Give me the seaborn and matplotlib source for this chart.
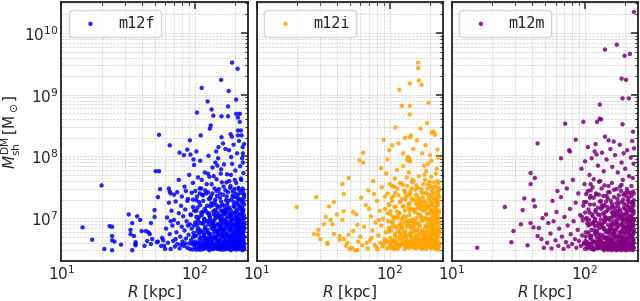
import pandas as pd
import matplotlib
matplotlib.use("Agg")
import matplotlib.pyplot as plt
import seaborn as sns

halos = ["m12f", "m12i", "m12m"]
colors = ["blue", "orange", "purple"]

# (R [kpc], log10 M_sh^DM [Msun])
m12f = [
    (191, 9.52), (210, 9.42), (158, 9.24), (113, 9.11), (180, 9.06), (205, 8.92), (125, 8.89), (178, 8.81),
    (134, 8.76), (104, 8.71), (205, 8.69), (218, 8.69), (138, 8.66), (159, 8.65), (178, 8.65), (211, 8.63),
    (218, 8.56), (132, 8.50), (130, 8.45), (211, 8.42), (222, 8.42), (54, 8.35), (111, 8.34), (211, 8.34),
    (225, 8.34), (159, 8.31), (190, 8.32), (92, 8.26), (65, 8.18), (77, 8.06), (83, 8.02), (98, 7.95),
    (88, 8.11), (103, 8.08), (20, 7.53), (51, 7.76), (54, 7.76), (55, 7.47), (64, 7.48), (53, 7.34),
    (65, 7.43), (66, 7.40), (50, 7.13), (32, 7.06), (37, 7.03), (39, 6.97), (50, 7.02), (14.4, 6.85),
    (23, 6.87), (24, 6.86), (34, 6.92), (47, 6.92), (33, 6.81), (40, 6.79), (43, 6.79), (45, 6.77),
    (46, 6.74), (33, 6.74), (17, 6.65), (24, 6.71), (24, 6.64), (35, 6.71), (36, 6.61), (36, 6.58),
    (36, 6.56), (25, 6.62), (28, 6.57), (21, 6.50), (24, 6.48), (34, 6.48), (42, 6.55), (44, 6.63),
    (47, 6.58), (48, 6.66), (52, 6.61), (53, 6.62), (56, 6.55), (58, 6.64), (60, 6.50),
    (145, 8.08), (151, 8.15), (163, 8.21), (170, 8.12), (196, 8.19), (215, 8.25), (230, 8.05), (235, 8.20), (186, 8.36),
    (57, 6.68), (59, 6.55), (61, 6.83), (62, 7.01), (63, 6.60), (65, 6.74), (66, 6.50), (67, 7.12),
    (68, 6.88), (69, 6.63), (70, 6.97), (71, 6.54), (72, 7.27), (73, 6.77), (74, 6.58), (75, 6.92),
    (76, 7.08), (77, 6.51), (78, 6.70), (79, 7.20), (80, 6.86), (81, 6.62), (82, 7.03), (83, 6.55),
    (84, 6.80), (85, 7.14), (86, 6.67), (87, 6.95), (88, 6.52), (89, 7.31), (90, 6.73), (91, 6.59),
    (92, 6.90), (93, 7.06), (94, 6.64), (95, 6.83), (96, 6.49), (97, 7.18), (98, 6.76), (99, 6.57),
    (64, 7.25), (70, 7.38), (74, 7.42), (66, 6.95), (85, 6.59), (92, 6.50), (97, 6.69), (89, 6.88),
    (79, 6.57), (72, 6.66),
    (76, 7.62), (80, 7.35), (84, 7.51), (88, 7.28), (91, 7.70), (95, 7.41), (97, 7.57), (99, 7.86),
    (103, 7.29), (106, 7.66), (110, 7.93), (114, 7.38), (119, 7.74), (123, 7.55), (127, 8.01), (132, 7.35),
    (136, 7.82), (141, 7.48), (146, 7.63), (150, 7.97), (155, 7.40), (160, 7.58), (166, 7.87), (170, 7.45),
    (175, 7.71), (181, 8.10), (186, 7.52), (191, 7.88), (197, 7.34), (202, 7.77), (208, 8.05), (213, 7.49),
    (219, 7.84), (224, 7.62), (229, 8.15), (234, 7.39), (232, 7.73), (227, 7.97), (216, 7.31), (200, 7.62),
    (188, 7.99), (173, 7.58), (157, 7.72), (143, 7.90), (129, 7.67), (112, 7.48), (93, 8.03), (86, 7.44),
    (100, 6.52), (102, 6.71), (101, 6.93), (103, 7.12), (105, 6.60), (106, 6.84), (104, 7.35), (107, 6.49),
    (108, 7.02), (109, 6.66), (110, 7.21), (102, 6.58), (106, 6.97), (109, 7.48),
    (111, 6.55), (112, 6.78), (113, 7.05), (114, 6.63), (115, 6.91), (116, 7.28), (117, 6.50), (118, 6.72),
    (119, 7.15), (120, 6.86), (121, 6.57), (122, 7.40), (113, 7.62), (118, 6.99), (121, 6.68),
    (123, 6.53), (124, 6.81), (125, 7.08), (126, 6.64), (127, 6.95), (128, 7.31), (129, 6.48), (130, 6.74),
    (131, 7.19), (132, 6.59), (133, 6.88), (134, 7.55), (135, 6.69), (126, 7.72), (130, 7.01), (133, 6.52),
    (136, 6.61), (137, 6.83), (138, 7.11), (139, 6.50), (140, 6.96), (141, 7.26), (142, 6.70), (143, 6.55),
    (144, 7.04), (145, 6.79), (146, 7.44), (147, 6.62), (148, 6.90), (149, 7.17), (150, 6.51), (139, 7.68),
    (144, 6.66), (148, 7.85),
    (151, 6.73), (152, 6.58), (153, 7.00), (154, 6.85), (155, 7.33), (156, 6.49), (157, 6.68), (158, 7.12),
    (159, 6.93), (160, 6.56), (161, 7.22), (162, 6.77), (163, 6.61), (164, 7.06), (165, 7.51), (166, 6.70),
    (154, 6.54), (158, 7.79), (162, 6.98),
    (167, 6.52), (168, 6.81), (169, 7.09), (170, 6.63), (171, 6.95), (172, 7.29), (173, 6.50), (174, 6.74),
    (175, 7.16), (176, 6.59), (177, 6.88), (178, 7.42), (179, 6.67), (180, 7.02), (181, 6.54), (182, 7.60),
    (183, 6.79), (171, 6.57), (176, 7.23), (180, 6.71),
    (184, 6.62), (185, 6.91), (186, 7.13), (187, 6.48), (188, 6.73), (189, 7.05), (190, 6.57), (191, 6.84),
    (192, 7.36), (193, 6.66), (194, 6.99), (195, 6.53), (196, 7.20), (197, 6.76), (198, 6.60), (199, 7.47),
    (200, 6.87), (187, 7.70), (193, 6.51), (198, 7.08),
    (201, 6.55), (202, 6.70), (203, 7.03), (204, 6.81), (205, 6.49), (206, 7.25), (207, 6.64), (208, 6.93),
    (209, 7.14), (210, 6.58), (211, 6.77), (212, 7.38), (213, 6.52), (214, 6.86), (215, 7.01), (216, 6.68),
    (217, 6.50), (218, 7.19), (205, 7.57), (210, 6.97), (215, 6.61),
    (219, 6.59), (220, 6.82), (221, 7.07), (222, 6.71), (223, 6.51), (224, 6.94), (225, 7.30), (226, 6.63),
    (227, 6.87), (228, 7.12), (229, 6.55), (230, 6.76), (231, 7.45), (232, 6.66), (233, 6.99), (234, 6.53),
    (235, 7.22), (222, 7.64), (228, 6.48), (233, 6.79), (236, 6.92), (230, 7.90),
    (101, 6.62), (104, 6.90), (107, 6.56), (110, 6.80), (112, 6.49), (115, 7.10), (117, 6.69), (120, 6.53),
    (122, 6.95), (125, 6.58), (127, 6.76), (129, 7.04), (131, 6.62), (134, 6.83), (136, 6.50), (138, 6.92),
    (141, 6.58), (143, 6.87), (145, 6.53), (147, 7.09), (149, 6.74), (152, 6.90), (153, 6.52), (155, 6.64),
    (157, 6.96), (159, 6.53), (161, 6.81), (163, 6.90), (165, 6.57), (167, 6.97), (169, 6.60), (171, 6.76),
    (173, 6.89), (175, 6.55), (177, 6.63), (179, 6.94), (181, 6.82), (183, 6.50), (185, 6.69), (187, 6.99),
    (189, 6.61), (191, 6.52), (193, 6.89), (195, 6.74), (197, 6.50), (199, 6.63), (201, 6.91), (203, 6.58),
    (205, 6.73), (207, 6.52), (209, 6.80), (211, 6.60), (213, 6.95), (215, 6.50), (217, 6.84), (219, 6.72),
    (221, 6.56), (223, 6.66), (225, 6.50), (227, 6.98), (229, 6.70), (231, 6.57), (233, 6.62), (235, 6.86),
    (236, 6.58), (234, 7.05), (232, 6.49), (226, 6.77), (218, 6.63), (212, 6.54), (206, 6.87), (196, 6.61),
    (188, 6.55), (178, 6.51), (168, 6.68), (160, 6.72), (150, 6.64), (140, 6.67), (132, 6.97), (124, 6.66),
    (116, 6.59), (108, 6.75),
    (97, 6.60), (142, 6.53), (188, 6.92), (231, 6.68), (119, 6.82), (165, 6.49), (210, 7.08), (103, 7.02),
    (151, 6.61), (197, 6.57), (224, 6.75), (128, 6.55), (174, 7.01), (218, 6.53), (109, 6.60), (157, 6.84),
    (203, 6.66), (235, 6.51), (135, 6.92), (181, 6.60), (226, 7.17), (113, 6.52), (162, 6.74), (207, 6.55),
    (233, 6.90), (146, 6.70), (192, 6.97), (121, 7.12), (169, 6.54), (214, 6.82), (99, 6.88), (138, 6.58),
    (185, 6.51), (229, 6.60), (125, 6.77), (177, 6.72), (221, 6.90), (106, 6.52), (153, 6.78), (199, 6.79),
    (236, 6.70), (131, 6.67), (183, 7.06), (215, 6.72), (116, 6.93), (164, 6.83), (211, 6.88), (148, 6.50),
    (194, 6.68), (227, 6.54), (123, 6.60), (172, 6.50), (219, 6.97), (102, 6.49), (144, 6.80), (190, 6.71),
    (234, 6.83), (137, 7.21), (179, 6.51), (223, 6.60), (111, 6.69), (159, 7.03), (205, 6.62), (232, 7.14),
    (127, 6.90), (168, 6.60), (213, 6.51), (96, 6.58), (140, 6.86), (186, 6.64), (230, 6.93), (118, 6.52),
    (166, 7.13), (209, 6.69), (150, 6.80), (196, 6.88), (225, 6.62), (133, 6.54), (176, 6.90), (220, 6.52),
    (105, 6.79), (155, 6.59), (201, 6.51), (235, 7.00), (129, 6.71), (171, 6.93), (217, 6.59), (114, 6.56),
    (160, 6.50), (206, 6.96), (143, 7.00), (189, 6.80), (228, 6.75), (120, 6.64), (163, 6.57), (212, 6.79),
    (100, 6.72), (147, 6.57), (193, 6.60), (233, 6.52), (134, 6.63), (178, 6.60), (222, 6.86), (110, 6.92),
    (156, 6.88), (202, 6.86), (126, 6.50), (170, 6.84), (216, 6.92), (139, 6.76), (184, 6.86), (230, 6.59),
    (117, 6.76), (167, 6.64), (208, 6.59), (152, 7.05), (198, 6.55),
    (94, 7.05), (131, 7.32), (177, 7.10), (222, 7.41), (108, 7.26), (152, 7.47), (199, 7.18), (234, 7.33),
    (118, 6.98), (164, 7.38), (211, 7.22), (101, 7.44), (142, 7.13), (188, 7.30), (228, 7.02), (124, 7.20),
    (170, 7.07), (215, 7.46), (112, 7.09), (158, 7.27), (204, 7.11), (136, 7.40), (182, 7.17), (226, 7.25),
    (97, 7.30), (146, 7.21), (193, 7.43), (231, 7.10), (128, 7.08), (174, 7.35), (218, 7.15), (105, 7.17),
    (150, 7.03), (196, 7.26), (235, 7.37), (120, 7.45), (166, 7.20), (208, 7.33), (139, 7.06), (185, 7.49),
    (224, 7.17), (115, 7.37), (161, 7.11), (202, 7.40), (133, 7.24), (179, 7.28), (220, 7.06), (99, 7.12),
    (147, 7.36), (191, 7.09), (232, 7.27), (126, 7.42), (171, 7.13), (213, 7.29), (109, 7.40), (155, 7.19),
    (206, 7.02), (143, 7.30), (187, 7.04), (229, 7.48),
]

m12i = [
    (163, 9.52), (163, 9.43), (165, 9.23), (173, 9.16), (141, 9.18), (118, 9.08), (195, 8.87), (123, 8.82),
    (141, 8.82), (141, 8.68), (170, 8.45), (206, 8.39), (144, 8.34), (141, 8.31), (90, 8.27), (63, 8.06),
    (59, 7.94), (63, 7.90), (49, 7.65), (44, 7.55), (28, 7.34), (45, 7.39), (38, 7.26), (20, 7.18),
    (35, 7.19), (45, 7.11), (40, 7.06), (53, 7.10), (56, 7.06), (33, 7.02), (36, 6.97), (44, 6.97),
    (37, 6.90), (32, 6.90), (57, 6.89), (29, 6.81), (27, 6.74), (29, 6.73), (30, 6.66), (34, 6.60),
    (34, 6.58), (38, 6.74), (42, 6.71), (42, 6.65), (45, 6.66), (48, 6.60), (50, 6.50), (52, 6.52),
    (55, 6.48), (57, 6.48), (49, 6.73), (53, 6.79), (47, 6.55), (58, 6.62), (60, 6.70), (62, 6.56),
    (64, 6.86), (66, 7.21), (68, 6.51), (69, 7.45), (71, 6.64), (72, 7.03), (74, 6.80), (75, 7.60),
    (77, 6.57), (78, 6.93), (80, 7.28), (81, 6.49), (82, 6.72), (84, 7.12), (85, 6.60), (86, 6.88),
    (87, 7.50), (88, 6.54), (89, 6.99), (91, 6.66), (92, 7.35), (93, 6.77), (94, 7.72), (95, 6.51),
    (96, 7.08), (97, 6.62), (98, 6.84), (99, 7.21), (67, 6.60), (73, 6.68), (79, 6.53), (83, 6.97),
    (90, 6.58), (61, 7.33), (70, 7.15), (76, 7.39), (86, 7.81), (96, 7.95), (99, 8.10), (104, 8.18),
    (110, 8.47), (116, 8.21), (126, 8.05), (130, 8.30), (150, 8.12), (160, 8.26), (175, 8.05), (185, 8.18),
    (200, 8.02), (218, 8.35), (228, 8.11), (233, 7.98), (190, 8.54), (213, 8.40),
    (135, 7.95), (138, 7.93), (140, 7.97), (137, 7.99), (142, 7.92), (180, 7.85), (193, 7.88), (205, 7.93),
    (225, 7.80),
    (100, 6.55), (102, 6.80), (101, 7.06), (103, 7.33), (105, 6.63), (106, 6.94), (104, 7.52), (107, 6.50),
    (108, 7.18), (109, 6.71), (110, 7.41), (102, 6.60), (106, 7.02), (109, 7.64),
    (111, 6.52), (112, 6.85), (113, 7.11), (114, 6.66), (115, 7.00), (116, 7.37), (117, 6.53), (118, 6.77),
    (119, 7.26), (120, 6.91), (121, 6.59), (122, 7.56), (113, 7.78), (118, 7.08), (121, 6.73),
    (123, 6.57), (124, 6.86), (125, 7.19), (126, 6.68), (127, 7.03), (128, 7.45), (129, 6.50), (130, 6.79),
    (131, 7.30), (132, 6.62), (133, 6.95), (134, 7.66), (135, 6.73), (126, 7.84), (130, 7.12), (133, 6.55),
    (136, 6.64), (137, 6.90), (138, 7.23), (139, 6.52), (140, 7.05), (141, 7.39), (142, 6.75), (143, 6.58),
    (144, 7.15), (145, 6.83), (146, 7.58), (147, 6.65), (148, 6.98), (149, 7.29), (150, 6.53), (139, 7.74),
    (144, 6.70), (148, 7.62),
    (151, 6.78), (152, 6.61), (153, 7.10), (154, 6.90), (155, 7.46), (156, 6.51), (157, 6.72), (158, 7.24),
    (159, 7.00), (160, 6.58), (161, 7.35), (162, 6.82), (163, 6.64), (164, 7.17), (165, 7.68), (166, 6.74),
    (154, 6.56), (158, 7.53), (162, 7.07),
    (167, 6.55), (168, 6.87), (169, 7.20), (170, 6.67), (171, 7.03), (172, 7.42), (173, 6.52), (174, 6.79),
    (175, 7.27), (176, 6.62), (177, 6.96), (178, 7.55), (179, 6.71), (180, 7.12), (181, 6.57), (182, 7.70),
    (183, 6.84), (171, 6.60), (176, 7.33), (180, 6.76),
    (184, 6.66), (185, 7.00), (186, 7.25), (187, 6.50), (188, 6.78), (189, 7.16), (190, 6.60), (191, 6.91),
    (192, 7.48), (193, 6.70), (194, 7.08), (195, 6.56), (196, 7.32), (197, 6.81), (198, 6.63), (199, 7.59),
    (200, 6.95), (187, 7.76), (193, 6.54), (198, 7.19),
    (201, 6.58), (202, 6.75), (203, 7.13), (204, 6.88), (205, 6.51), (206, 7.37), (207, 6.68), (208, 7.01),
    (209, 7.26), (210, 6.61), (211, 6.83), (212, 7.50), (213, 6.55), (214, 6.93), (215, 7.11), (216, 6.72),
    (217, 6.52), (218, 7.30), (205, 7.67), (210, 7.06), (215, 6.65),
    (219, 6.62), (220, 6.89), (221, 7.18), (222, 6.76), (223, 6.54), (224, 7.04), (225, 7.43), (226, 6.67),
    (227, 6.95), (228, 7.24), (229, 6.58), (230, 6.82), (231, 7.57), (232, 6.70), (233, 7.09), (234, 6.56),
    (235, 7.34), (222, 7.72), (228, 6.51), (233, 6.86),
    (101, 6.68), (105, 6.52), (108, 6.88), (112, 6.60), (116, 6.79), (119, 6.55), (123, 6.97), (127, 6.62),
    (131, 6.53), (135, 6.86), (140, 6.61), (144, 6.95), (149, 6.57), (153, 6.68), (157, 6.53), (161, 6.92),
    (165, 6.60), (169, 6.75), (173, 6.96), (177, 6.54), (181, 6.70), (185, 6.57), (189, 6.85), (193, 6.98),
    (197, 6.53), (201, 6.69), (205, 6.90), (209, 6.55), (213, 6.74), (217, 6.97), (221, 6.53), (225, 6.70),
    (229, 6.92), (233, 6.60), (235, 6.79), (231, 6.49), (227, 6.61), (223, 6.82), (219, 6.50), (214, 6.59),
    (207, 6.80), (199, 6.67), (191, 6.56), (183, 6.63), (175, 6.50), (166, 6.89), (159, 6.69), (151, 6.93),
    (143, 6.72), (137, 6.54), (129, 6.92), (121, 6.84), (114, 6.50), (107, 6.62), (103, 6.94),
    (95, 6.63), (140, 6.56), (186, 6.98), (230, 6.74), (117, 6.88), (163, 6.52), (208, 7.21), (101, 7.11),
    (149, 6.65), (195, 6.60), (222, 6.81), (126, 6.58), (172, 7.14), (216, 6.55), (107, 6.64), (155, 6.93),
    (201, 6.70), (234, 6.54), (133, 7.02), (179, 6.63), (224, 7.30), (111, 6.55), (160, 6.80), (205, 6.58),
    (232, 6.99), (144, 6.76), (190, 7.07), (119, 7.26), (167, 6.57), (212, 6.90), (97, 6.95), (136, 6.61),
    (183, 6.53), (227, 6.64), (123, 6.84), (175, 6.79), (219, 7.01), (104, 6.55), (151, 6.84), (197, 6.86),
    (235, 6.76), (129, 6.72), (181, 7.19), (213, 6.79), (114, 7.04), (162, 6.91), (209, 6.97), (146, 6.53),
    (192, 6.73), (225, 6.58), (121, 6.64), (170, 6.54), (217, 7.09), (100, 6.52), (142, 6.87), (188, 6.77),
    (233, 6.92), (135, 7.36), (177, 6.55), (221, 6.64), (109, 6.75), (157, 7.15), (203, 6.67), (231, 7.27),
    (125, 7.00), (166, 6.64), (211, 6.54), (92, 6.62), (138, 6.95), (184, 6.69), (228, 7.04), (116, 6.56),
    (164, 7.28), (207, 6.74), (148, 6.88), (194, 6.99), (223, 6.67), (131, 6.58), (174, 7.01), (218, 6.56),
    (103, 6.86), (153, 6.63), (199, 6.54), (234, 7.12), (127, 6.77), (169, 7.05), (215, 6.63), (112, 6.60),
    (158, 6.53), (204, 7.08), (141, 7.12), (187, 6.88), (226, 6.81), (118, 6.70), (161, 6.61), (210, 6.87),
    (98, 6.78), (145, 6.61), (191, 6.65), (232, 6.55), (132, 6.69), (176, 6.64), (220, 6.96), (108, 7.00),
    (154, 6.97), (200, 6.94),
    (92, 7.15), (130, 7.42), (176, 7.20), (221, 7.51), (107, 7.36), (151, 7.60), (198, 7.28), (233, 7.45),
    (117, 7.08), (163, 7.49), (210, 7.33), (100, 7.55), (141, 7.24), (187, 7.41), (227, 7.12), (123, 7.31),
    (169, 7.17), (214, 7.58), (111, 7.19), (157, 7.38), (203, 7.22), (135, 7.52), (181, 7.28), (225, 7.36),
    (96, 7.40), (145, 7.32), (192, 7.55), (230, 7.21), (127, 7.19), (173, 7.47), (217, 7.26), (104, 7.28),
    (149, 7.14), (195, 7.38), (234, 7.49), (119, 7.57), (165, 7.31), (207, 7.45), (138, 7.17), (184, 7.62),
    (223, 7.29), (114, 7.48), (160, 7.22), (201, 7.52), (132, 7.35), (178, 7.40), (219, 7.17), (98, 7.23),
    (146, 7.48), (190, 7.20), (231, 7.39), (125, 7.54), (170, 7.24), (212, 7.41), (108, 7.51), (154, 7.30),
    (205, 7.13), (142, 7.42), (186, 7.15), (228, 7.60),
]

m12m = [
    (233, 10.34), (173, 9.81), (141, 9.73), (217, 9.66), (198, 9.63), (188, 9.26), (203, 9.24), (191, 8.94),
    (213, 8.94), (129, 8.84), (129, 8.61), (132, 8.60), (123, 8.56), (97, 8.56), (71, 8.53), (191, 8.52),
    (229, 8.40), (85, 8.27), (141, 8.32), (150, 8.26), (164, 8.24), (44, 8.21), (76, 8.10), (118, 8.08),
    (122, 8.03), (66, 7.97), (77, 8.08), (39, 7.73), (42, 7.65), (39, 7.55), (25, 7.18), (35, 7.32),
    (34, 7.13), (41, 7.29), (42, 7.19), (29, 6.79), (28, 6.61), (37, 6.56), (15.5, 6.52), (33, 6.90),
    (39, 6.92), (41, 6.85), (45, 6.84), (44, 6.71), (47, 6.66), (52, 6.60), (49, 6.52), (55, 6.75),
    (56, 6.51), (58, 6.95), (60, 6.64), (61, 7.10), (63, 6.55), (64, 6.83), (66, 7.34), (67, 6.70),
    (69, 6.50), (70, 7.02), (72, 6.61), (73, 7.48), (74, 6.88), (75, 6.54), (77, 7.15), (78, 6.74),
    (80, 6.58), (81, 7.62), (82, 6.95), (84, 6.66), (85, 7.25), (86, 6.52), (88, 6.81), (89, 7.40),
    (90, 6.63), (92, 7.05), (93, 6.55), (94, 7.80), (95, 6.72), (96, 6.96), (97, 7.20), (98, 6.60),
    (99, 7.55), (51, 7.06), (57, 7.28), (62, 7.44), (68, 7.58), (53, 6.92), (48, 7.00),
    (100, 7.92), (105, 8.15), (108, 7.70), (112, 7.97), (116, 7.63), (120, 8.20), (125, 7.85), (134, 8.06),
    (138, 7.76), (145, 7.95), (155, 8.12), (160, 7.83), (168, 8.02), (176, 7.74), (182, 8.19), (188, 7.90),
    (195, 8.05), (200, 7.80), (207, 8.10), (214, 7.68), (220, 7.98), (226, 8.25), (231, 7.88), (233, 8.13),
    (110, 7.45), (130, 7.60), (150, 7.52), (172, 7.47), (192, 7.62), (210, 7.42), (228, 7.65),
    (100, 6.50), (101, 6.77), (103, 7.00), (102, 7.26), (104, 6.61), (106, 6.88), (105, 7.44), (107, 6.53),
    (108, 7.09), (110, 6.68), (109, 7.33), (103, 6.57), (107, 6.97), (110, 7.55),
    (111, 6.58), (112, 6.81), (114, 7.03), (113, 6.64), (115, 6.93), (117, 7.22), (116, 6.49), (118, 6.74),
    (120, 7.13), (119, 6.87), (122, 6.55), (121, 7.38), (114, 7.50), (119, 6.99), (122, 6.69),
    (124, 6.51), (123, 6.79), (125, 7.06), (127, 6.63), (126, 6.92), (129, 7.27), (128, 6.52), (130, 6.73),
    (132, 7.15), (131, 6.58), (134, 6.86), (133, 7.48), (135, 6.67), (127, 7.59), (131, 6.98), (134, 6.55),
    (136, 6.60), (138, 6.82), (137, 7.08), (139, 6.48), (141, 6.94), (140, 7.21), (142, 6.69), (144, 6.53),
    (143, 7.01), (146, 6.77), (145, 7.36), (147, 6.61), (149, 6.89), (148, 7.13), (150, 6.52), (140, 7.53),
    (145, 6.65), (149, 7.42),
    (151, 6.70), (153, 6.56), (152, 6.97), (154, 6.83), (156, 7.28), (155, 6.50), (157, 6.66), (159, 7.09),
    (158, 6.91), (161, 6.55), (160, 7.19), (162, 6.75), (164, 6.60), (163, 7.03), (165, 7.46), (166, 6.68),
    (155, 6.53), (159, 7.57), (163, 6.95),
    (167, 6.51), (169, 6.79), (168, 7.05), (171, 6.62), (170, 6.92), (172, 7.24), (174, 6.49), (173, 6.72),
    (176, 7.12), (175, 6.58), (177, 6.86), (179, 7.37), (178, 6.65), (181, 6.99), (180, 6.53), (183, 7.51),
    (182, 6.77), (172, 6.56), (177, 7.19), (181, 6.70),
    (184, 6.60), (186, 6.89), (185, 7.10), (188, 6.48), (187, 6.71), (190, 7.02), (189, 6.56), (191, 6.82),
    (193, 7.30), (192, 6.64), (195, 6.97), (194, 6.52), (196, 7.17), (198, 6.74), (197, 6.59), (200, 7.41),
    (199, 6.85), (188, 7.54), (194, 6.50), (199, 7.06),
    (201, 6.54), (203, 6.69), (202, 7.00), (205, 6.80), (204, 6.48), (207, 7.21), (206, 6.63), (209, 6.91),
    (208, 7.12), (211, 6.57), (210, 6.76), (213, 7.33), (212, 6.51), (215, 6.85), (214, 6.99), (217, 6.67),
    (216, 6.49), (219, 7.16), (206, 7.47), (211, 6.95), (216, 6.60),
    (220, 6.58), (222, 6.81), (221, 7.04), (224, 6.70), (223, 6.50), (226, 6.93), (225, 7.26), (228, 6.62),
    (227, 6.86), (230, 7.10), (229, 6.54), (231, 6.75), (232, 7.40), (230, 6.65), (232, 6.98), (226, 6.52),
    (231, 7.20), (223, 7.52), (228, 6.48), (232, 6.78),
    (101, 6.63), (104, 6.92), (108, 6.56), (111, 6.71), (115, 6.51), (118, 6.95), (121, 6.62), (125, 6.52),
    (128, 6.84), (132, 6.59), (136, 6.72), (139, 6.96), (143, 6.57), (147, 6.80), (151, 6.49), (154, 6.64),
    (158, 6.52), (162, 6.88), (166, 6.55), (170, 6.70), (174, 6.93), (178, 6.51), (182, 6.62), (186, 6.53),
    (190, 6.78), (194, 6.91), (198, 6.50), (202, 6.60), (206, 6.86), (210, 6.53), (214, 6.68), (218, 6.94),
    (222, 6.55), (226, 6.73), (230, 6.51), (232, 6.60), (228, 6.89), (224, 6.59), (220, 6.83), (216, 6.74),
    (212, 6.62), (208, 6.50), (204, 6.57), (200, 6.66), (196, 6.54), (192, 6.50), (188, 6.63), (184, 6.78),
    (180, 6.61), (176, 6.54), (172, 6.83), (168, 6.58), (164, 6.76), (160, 6.63), (156, 6.58), (152, 6.79),
    (148, 6.55), (144, 6.67), (140, 6.59), (136, 6.50), (132, 6.91), (128, 6.67), (124, 6.58), (120, 6.77),
    (116, 6.61), (112, 6.53), (108, 6.72), (104, 6.53),
    (98, 6.58), (141, 6.51), (187, 6.90), (230, 6.66), (118, 6.80), (164, 6.50), (209, 7.05), (102, 6.99),
    (150, 6.59), (196, 6.55), (223, 6.73), (127, 6.53), (173, 6.98), (217, 6.51), (108, 6.58), (156, 6.82),
    (202, 6.64), (232, 6.52), (134, 6.90), (180, 6.58), (225, 7.14), (112, 6.50), (161, 6.72), (206, 6.53),
    (231, 6.88), (145, 6.68), (191, 6.95), (120, 7.10), (168, 6.52), (213, 6.80), (138, 6.56), (184, 6.50),
    (228, 6.58), (124, 6.75), (176, 6.70), (220, 6.88), (105, 6.51), (152, 6.76), (198, 6.77), (130, 6.65),
    (182, 7.03), (214, 6.70), (115, 6.91), (163, 6.81), (210, 6.86), (147, 6.49), (193, 6.66), (226, 6.52),
    (122, 6.58), (171, 6.48), (218, 6.95), (143, 6.78), (189, 6.69), (232, 6.81), (136, 7.18), (178, 6.49),
    (222, 6.58), (110, 6.67), (158, 7.01), (204, 6.60), (231, 7.12), (126, 6.88), (167, 6.58), (212, 6.50),
    (139, 6.84), (185, 6.62), (229, 6.91), (117, 6.50), (165, 7.11), (208, 6.67), (149, 6.78), (195, 6.86),
    (224, 6.60), (132, 6.52), (175, 6.88), (219, 6.50), (106, 6.77), (154, 6.57), (200, 6.49), (232, 6.97),
    (128, 6.69), (170, 6.91), (216, 6.57), (113, 6.54), (159, 6.48), (205, 6.94), (142, 6.98), (188, 6.78),
    (227, 6.73), (119, 6.62), (162, 6.55), (211, 6.77), (101, 6.70), (146, 6.55), (192, 6.58), (133, 6.61),
    (177, 6.58), (221, 6.84), (109, 6.90), (155, 6.86), (201, 6.84),
    (95, 7.02), (132, 7.28), (178, 7.06), (223, 7.36), (109, 7.22), (153, 7.42), (200, 7.14), (232, 7.29),
    (119, 6.96), (165, 7.34), (212, 7.18), (102, 7.39), (143, 7.10), (189, 7.26), (228, 6.99), (125, 7.17),
    (171, 7.04), (216, 7.41), (113, 7.06), (159, 7.23), (205, 7.08), (137, 7.36), (183, 7.14), (226, 7.22),
    (98, 7.26), (147, 7.18), (194, 7.38), (231, 7.07), (129, 7.05), (175, 7.31), (219, 7.12), (106, 7.14),
    (151, 7.00), (197, 7.23), (121, 7.40), (167, 7.17), (209, 7.29), (140, 7.03), (186, 7.44), (224, 7.14),
    (116, 7.33), (162, 7.08), (203, 7.36), (134, 7.21), (180, 7.25), (221, 7.03), (100, 7.09), (148, 7.32),
    (192, 7.06), (230, 7.24), (127, 7.38), (172, 7.10), (214, 7.26), (110, 7.36), (156, 7.16), (207, 6.99),
    (144, 7.27), (188, 7.01), (229, 7.43),
]

sns.set_style("white")
fig, axes = plt.subplots(1, 3, figsize=(6.4, 3.01), dpi=100, sharey=True)
fig.subplots_adjust(left=0.096, right=0.997, top=0.993, bottom=0.132, wspace=0.048)

for ax, name, col, pts in zip(axes, halos, colors, [m12f, m12i, m12m]):
    df = pd.DataFrame(pts, columns=["R", "logM"])
    df["M"] = 10 ** df["logM"]
    sns.scatterplot(data=df, x="R", y="M", ax=ax, color=col, s=10,
                    edgecolor="none", alpha=0.85, label=name)
    ax.set_xscale("log")
    ax.set_yscale("log")
    ax.set_xlim(10, 250)
    ax.set_ylim(2e6, 3.16e10)
    ax.grid(True, which="both", ls="--", lw=0.5, color="#bbbbbb", alpha=0.7)
    ax.tick_params(which="both", direction="in", top=True, right=True, labelsize=11, pad=2)
    ax.tick_params(which="major", length=5, width=1.1)
    ax.tick_params(which="minor", length=2.5, width=0.8)
    for sp in ax.spines.values():
        sp.set_linewidth(1.3)
        sp.set_color("#222222")
    ax.set_xlabel("$R$ [kpc]", fontsize=11, labelpad=0)
    ax.set_ylabel("")
    ax.legend(loc="upper left", prop={"family": "monospace", "size": 11})

axes[0].set_ylabel(r"$M_{\rm sh}^{\rm DM}\,[\rm M_\odot]$", fontsize=11, labelpad=1)

fig.savefig("out.png", dpi=100)
